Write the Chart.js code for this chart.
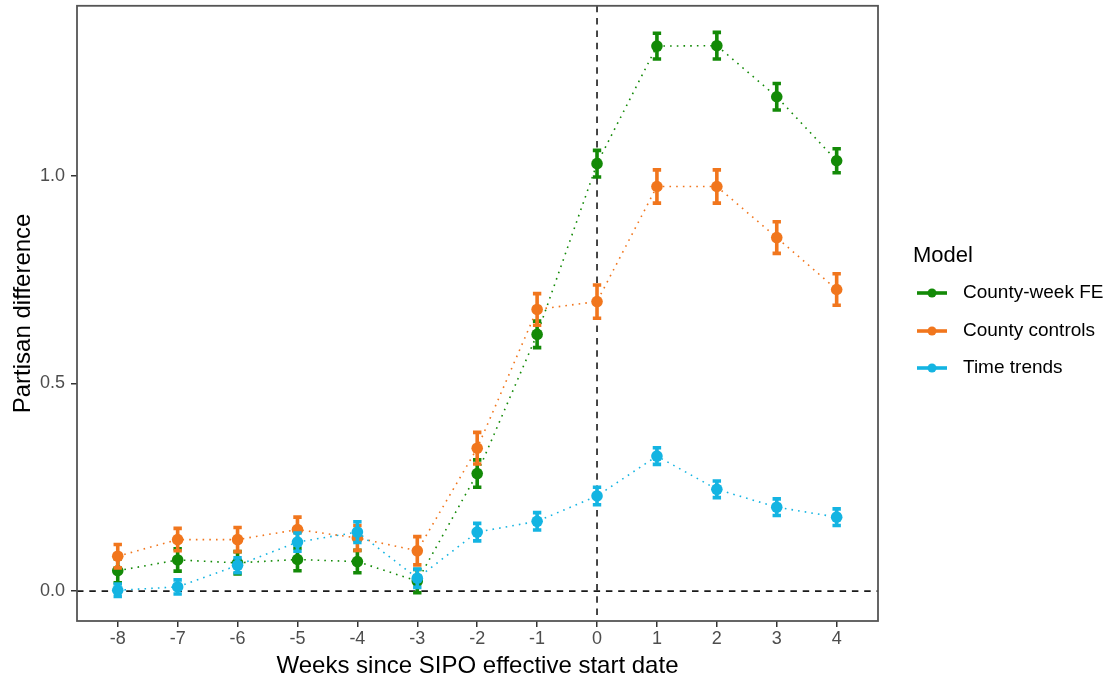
<!DOCTYPE html>
<html><head><meta charset="utf-8">
<script src="https://cdn.jsdelivr.net/npm/chart.js@4.4.0/dist/chart.umd.min.js"></script>
<style>html,body{margin:0;padding:0;background:#fff}#wrap{width:1114px;height:687px}</style>
</head><body><div id="wrap"><canvas id="c" width="1114" height="687"></canvas></div>
<script>
// ---- data ----
const weeks = [-8,-7,-6,-5,-4,-3,-2,-1,0,1,2,3,4];
const xTickValues = [-8,-7,-6,-5,-4,-3,-2,-1,0,1,2,3,4];
const yTickValues = [0, 0.5, 1.0];
const yTickLabels = ['0.0','0.5','1.0'];
const seriesNames = ['County-week FE','County controls','Time trends'];
const seriesColors = ['#138a07','#f1761d','#14b4e2'];
const feValues   = [0.049,0.075,0.068,0.076,0.071,0.024,0.283,0.618,1.029,1.312,1.313,1.190,1.036];
const feErr      = [0.029,0.027,0.027,0.027,0.027,0.028,0.033,0.032,0.032,0.031,0.032,0.032,0.029];
const ccValues   = [0.084,0.124,0.124,0.148,0.128,0.097,0.344,0.678,0.697,0.974,0.974,0.851,0.726];
const ccErr      = [0.028,0.027,0.029,0.030,0.030,0.034,0.038,0.038,0.040,0.040,0.040,0.038,0.038];
const ttValues   = [0.002,0.010,0.062,0.118,0.142,0.031,0.142,0.168,0.229,0.325,0.245,0.202,0.178];
const ttErr      = [0.015,0.017,0.018,0.022,0.025,0.022,0.021,0.021,0.021,0.020,0.020,0.020,0.020];
const xTitle = 'Weeks since SIPO effective start date';
const yTitle = 'Partisan difference';
const legendTitle = 'Model';

const FONT = '"Liberation Sans", Arial, sans-serif';
const values = [feValues, ccValues, ttValues];
const errs = [feErr, ccErr, ttErr];

const datasets = seriesNames.map((name, k) => ({
  label: name,
  data: weeks.map((w, i) => ({x: w, y: values[k][i]})),
  errors: errs[k],
  borderColor: seriesColors[k],
  backgroundColor: seriesColors[k],
  pointBackgroundColor: seriesColors[k],
  pointBorderWidth: 0,
  pointRadius: 5.8,
  pointHoverRadius: 5.8,
  borderWidth: 1.6,
  borderDash: [1.6, 5.1],
  borderCapStyle: 'butt',
  tension: 0,
  order: 3 - k
}));

const refAndFrame = {
  id: 'refAndFrame',
  beforeDatasetsDraw(chart) {
    const {ctx, chartArea: a, scales: {x, y}} = chart;
    ctx.save();
    ctx.strokeStyle = '#1a1a1a';
    ctx.lineWidth = 1.6;
    ctx.setLineDash([6.5, 5.8]);
    const y0 = y.getPixelForValue(0);
    ctx.beginPath(); ctx.moveTo(a.left, y0); ctx.lineTo(a.right, y0); ctx.stroke();
    const x0 = x.getPixelForValue(0);
    ctx.beginPath(); ctx.moveTo(x0, a.top); ctx.lineTo(x0, a.bottom); ctx.stroke();
    ctx.restore();
  },
  afterDatasetDraw(chart, args) {
    const ds = chart.data.datasets[args.index];
    const {ctx, scales: {x, y}} = chart;
    ctx.save();
    ctx.strokeStyle = ds.borderColor;
    ctx.lineWidth = 3.6;
    ctx.setLineDash([]);
    ctx.lineCap = 'butt';
    ds.data.forEach((p, i) => {
      const px = x.getPixelForValue(p.x);
      const yt = y.getPixelForValue(p.y + ds.errors[i]);
      const yb = y.getPixelForValue(p.y - ds.errors[i]);
      ctx.beginPath();
      ctx.moveTo(px, yt); ctx.lineTo(px, yb);
      ctx.moveTo(px - 4.2, yt); ctx.lineTo(px + 4.2, yt);
      ctx.moveTo(px - 4.2, yb); ctx.lineTo(px + 4.2, yb);
      ctx.stroke();
    });
    ctx.restore();
  },
  afterDatasetsDraw(chart) {
    const {ctx, chartArea: a} = chart;
    ctx.save();
    ctx.strokeStyle = '#555555';
    ctx.lineWidth = 1.8;
    ctx.strokeRect(a.left, a.top, a.right - a.left, a.bottom - a.top);
    ctx.restore();
  },
  afterDraw(chart) {
    const {ctx} = chart;
    ctx.save();
    ctx.fillStyle = '#000';
    ctx.textBaseline = 'middle';
    ctx.textAlign = 'left';
    ctx.font = '22px ' + FONT;
    ctx.fillText(legendTitle, 913, 256);
    const ys = [293, 331, 368];
    chart.data.datasets.forEach((ds, k) => {
      const yy = ys[k];
      ctx.strokeStyle = ds.borderColor;
      ctx.fillStyle = ds.borderColor;
      ctx.lineWidth = 3.6;
      ctx.beginPath(); ctx.moveTo(917, yy); ctx.lineTo(947, yy); ctx.stroke();
      ctx.beginPath(); ctx.arc(932, yy, 4.5, 0, Math.PI * 2); ctx.fill();
      ctx.fillStyle = '#000';
      ctx.font = '19px ' + FONT;
      ctx.fillText(ds.label, 963, yy);
    });
    ctx.restore();
  }
};

new Chart(document.getElementById('c'), {
  type: 'line',
  data: {datasets},
  plugins: [refAndFrame],
  options: {
    responsive: false,
    animation: false,
    devicePixelRatio: 1,
    events: [],
    layout: {padding: {left: 0, right: 236, top: 5, bottom: 0}},
    plugins: {legend: {display: false}, tooltip: {enabled: false}},
    scales: {
      x: {
        type: 'linear', min: -8.68, max: 4.69,
        afterBuildTicks: s => { s.ticks = xTickValues.map(v => ({value: v})); },
        afterFit: s => { s.height = 66; s.paddingLeft = 0; s.paddingRight = 0; },
        ticks: {autoSkip: false, maxRotation: 0, padding: 1, color: '#4d4d4d',
                font: {family: FONT, size: 18}, callback: v => String(v)},
        grid: {display: true, drawOnChartArea: false, drawTicks: true, tickLength: 6, color: '#333333', lineWidth: 1.5},
        border: {display: false},
        title: {display: true, text: xTitle, color: '#000', font: {family: FONT, size: 24}, padding: {top: 0, bottom: 6}}
      },
      y: {
        type: 'linear', min: -0.072, max: 1.409,
        afterBuildTicks: s => { s.ticks = yTickValues.map(v => ({value: v})); },
        afterFit: s => { s.width = 77; s.paddingTop = 0; s.paddingBottom = 0; },
        ticks: {autoSkip: false, padding: 6, color: '#4d4d4d', font: {family: FONT, size: 18},
                callback: v => yTickLabels[yTickValues.indexOf(v)]},
        grid: {display: true, drawOnChartArea: false, drawTicks: true, tickLength: 6, color: '#333333', lineWidth: 1.5},
        border: {display: false},
        title: {display: true, text: yTitle, color: '#000', font: {family: FONT, size: 24}, padding: {top: 9, bottom: 0}}
      }
    }
  }
});
</script>
</body></html>
